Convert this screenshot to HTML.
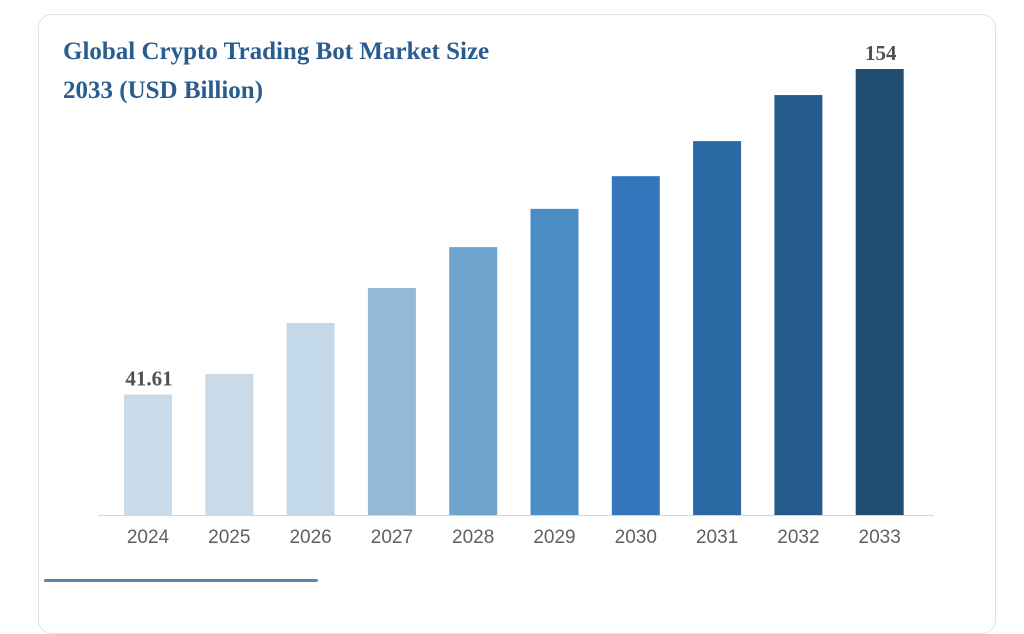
<!DOCTYPE html>
<html><head><meta charset="utf-8"><style>
body{margin:0;width:1024px;height:606px;background:#fff;overflow:hidden;position:relative;font-family:"Liberation Sans",sans-serif}
#card{position:absolute;left:38px;top:14px;width:958px;height:620px;border:1.5px solid #e2e2e2;border-radius:14px;box-sizing:border-box}
#title{position:absolute;left:63px;top:32px;font-family:"Liberation Serif",serif;font-weight:bold;font-size:25px;line-height:39px;color:#2a5d8f}
#bottombar{position:absolute;left:44px;top:579px;width:274px;height:3px;background:#5b85b5;border-radius:2px}
svg{position:absolute;left:0;top:0}
</style></head><body>
<div id="card"></div>
<div id="title">Global Crypto Trading Bot Market Size<br>2033 (USD Billion)</div>
<div id="bottombar"></div>
<svg id="chart" width="1024" height="606"></svg>
<script>
const categories=["2024","2025","2026","2027","2028","2029","2030","2031","2032","2033"];
const values=[41.61,48.7,66.3,78.4,92.5,105.7,117,129.1,145,154];
const valueLabels=["41.61","","","","","","","","","154"];
const colors=["#c9dbe9","#c9dbe9","#c3d9ea","#95bad6","#6fa4cc","#4a8cc4","#3277bc","#2b69a5","#255a8d","#214d70"];
const svg=document.getElementById('chart');
const NS="http://www.w3.org/2000/svg";
const baseY=515,topY=69,maxV=154,x0=124,step=81.3,bw=48;
const y=v=>baseY-(v/maxV)*(baseY-topY);
const x=i=>x0+i*step;
const axis=document.createElementNS(NS,'line');
axis.setAttribute('x1',98);axis.setAttribute('x2',934);axis.setAttribute('y1',baseY+0.5);axis.setAttribute('y2',baseY+0.5);
axis.setAttribute('stroke','#d5d5d5');axis.setAttribute('stroke-width','1');


svg.appendChild(axis);
categories.forEach((c,i)=>{
  const r=document.createElementNS(NS,'rect');
  r.setAttribute('x',x(i));r.setAttribute('y',y(values[i]));r.setAttribute('width',bw);r.setAttribute('height',baseY-y(values[i]));r.setAttribute('fill',colors[i]);
  
  
  svg.appendChild(r);
  const t=document.createElementNS(NS,'text');
  t.setAttribute('x',x(i)+bw/2);t.setAttribute('y',543);t.setAttribute('text-anchor','middle');
  t.setAttribute('font-size','19');t.setAttribute('fill','#606060');t.setAttribute('font-family','Liberation Sans, sans-serif');
  t.textContent=c;
  
  
  svg.appendChild(t);
  if(valueLabels[i]){
    const v=document.createElementNS(NS,'text');
    v.setAttribute('x',x(i)+bw/2+1);v.setAttribute('y',y(values[i])-9);v.setAttribute('text-anchor','middle');
    v.setAttribute('font-size','21');v.setAttribute('font-weight','bold');v.setAttribute('fill','#505050');v.setAttribute('font-family','Liberation Serif, serif');
    v.textContent=valueLabels[i];
    
    
    svg.appendChild(v);
  }
});
</script>
</body></html>
